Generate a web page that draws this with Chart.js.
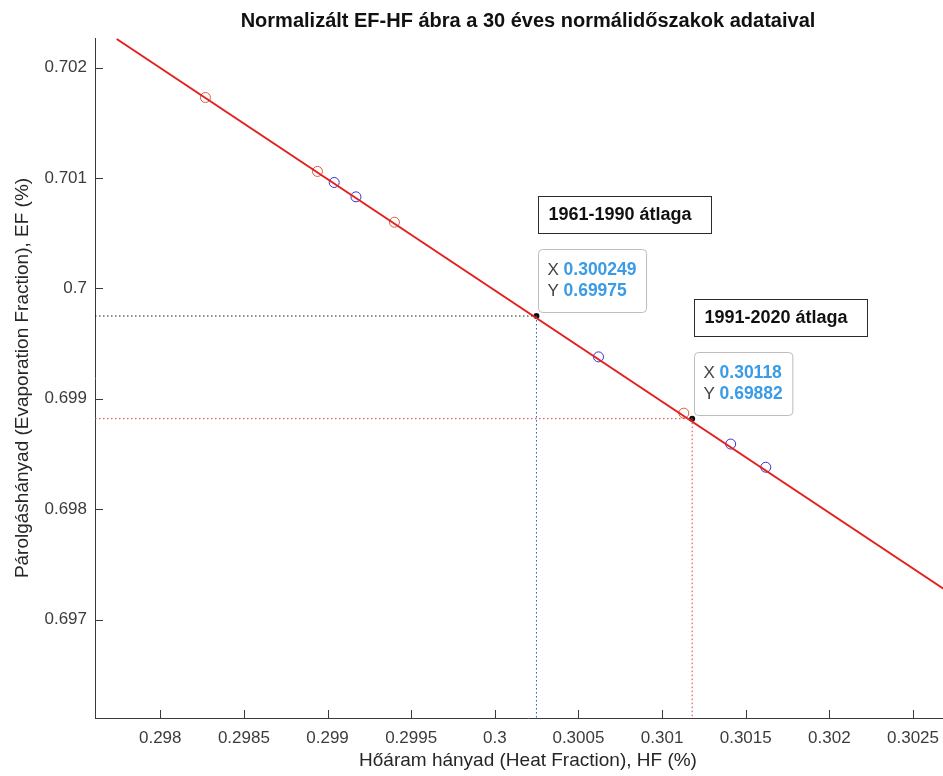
<!DOCTYPE html>
<html>
<head>
<meta charset="utf-8">
<script src="https://cdn.jsdelivr.net/npm/chart.js@4.4.1/dist/chart.umd.min.js"></script>
<style>
  html, body { margin: 0; padding: 0; background: #fff; overflow: hidden; }
  #wrap { width: 990px; height: 776px; }
</style>
</head>
<body>
<div id="wrap"><canvas id="efhf" width="990" height="776"></canvas></div>
<script>
var xTicks = [0.298, 0.2985, 0.299, 0.2995, 0.3, 0.3005, 0.301, 0.3015, 0.302, 0.3025];
var yTicks = [0.697, 0.698, 0.699, 0.7, 0.701, 0.702];
var xMin = 0.29761, xMax = 0.302787;
var yMin = 0.696108, yMax = 0.702269;

var redHF = [0.29827, 0.29894, 0.29940, 0.30113];
var redEF = [0.70173, 0.70106, 0.70060, 0.69887];
var blueHF = [0.29904, 0.29917, 0.30062, 0.30141, 0.30162];
var blueEF = [0.70096, 0.70083, 0.69938, 0.69859, 0.69838];

var fitHF = [0.29774, 0.30279];
var fitEF = [0.70226, 0.69717];

var avgHF = [0.300249, 0.30118];
var avgEF = [0.69975, 0.69882];
var avgLabels = ['1961-1990 átlaga', '1991-2020 átlaga'];

var FONT = "'Liberation Sans', Arial, Helvetica, sans-serif";

function pts(xs, ys) {
    var out = [];
    for (var i = 0; i < xs.length; i++) out.push({ x: xs[i], y: ys[i] });
    return out;
}

var dotted = [1.5, 2.5];

// inward tick marks, matlab style
var tickMarks = {
    id: 'tickMarks',
    afterDraw: function (chart) {
        var ctx = chart.ctx, xs = chart.scales.x, ys = chart.scales.y;
        var a = chart.chartArea;
        ctx.save();
        ctx.strokeStyle = '#3a3a3a';
        ctx.lineWidth = 1;
        ctx.beginPath();
        xTicks.forEach(function (v) {
            var p = Math.round(xs.getPixelForValue(v)) + 0.5;
            ctx.moveTo(p, a.bottom);
            ctx.lineTo(p, a.bottom - 8);
        });
        yTicks.forEach(function (v) {
            var p = Math.round(ys.getPixelForValue(v)) + 0.5;
            ctx.moveTo(a.left, p);
            ctx.lineTo(a.left + 8, p);
        });
        ctx.stroke();
        ctx.restore();
    }
};

function roundRect(ctx, x, y, w, h, r) {
    ctx.beginPath();
    ctx.moveTo(x + r, y);
    ctx.lineTo(x + w - r, y);
    ctx.quadraticCurveTo(x + w, y, x + w, y + r);
    ctx.lineTo(x + w, y + h - r);
    ctx.quadraticCurveTo(x + w, y + h, x + w - r, y + h);
    ctx.lineTo(x + r, y + h);
    ctx.quadraticCurveTo(x, y + h, x, y + h - r);
    ctx.lineTo(x, y + r);
    ctx.quadraticCurveTo(x, y, x + r, y);
    ctx.closePath();
}

// data tips and the two text boxes
var notes = {
    id: 'notes',
    afterDraw: function (chart) {
        var ctx = chart.ctx, xs = chart.scales.x, ys = chart.scales.y;
        ctx.save();
        for (var i = 0; i < avgHF.length; i++) {
            var px = xs.getPixelForValue(avgHF[i]);
            var py = ys.getPixelForValue(avgEF[i]);

            // datatip
            var vx = String(avgHF[i]), vy = String(avgEF[i]);
            ctx.font = 'bold 17.5px ' + FONT;
            var vw = Math.max(ctx.measureText(vx).width, ctx.measureText(vy).width);
            ctx.font = '17px ' + FONT;
            var lw = ctx.measureText('X ').width;
            var w = 9 + lw + vw + 10, h = 63;
            var bx = Math.round(px) + 2.5, by = Math.round(py) - 3.5 - h;
            roundRect(ctx, bx, by, w, h, 4);
            ctx.fillStyle = 'rgba(255,255,255,0.95)';
            ctx.fill();
            ctx.strokeStyle = '#bdbdbd';
            ctx.lineWidth = 1;
            ctx.stroke();
            ctx.textBaseline = 'middle';
            ctx.textAlign = 'left';
            ctx.fillStyle = '#444';
            ctx.font = '17px ' + FONT;
            ctx.fillText('X', bx + 9, by + 21);
            ctx.fillText('Y', bx + 9, by + 42);
            ctx.fillStyle = '#3a9be6';
            ctx.font = 'bold 17.5px ' + FONT;
            ctx.fillText(vx, bx + 9 + lw, by + 21);
            ctx.fillText(vy, bx + 9 + lw, by + 42);

            // label box
            var tx = Math.round(px) + 2.5, ty = Math.round(py) - 119.5;
            ctx.fillStyle = '#fff';
            ctx.fillRect(tx, ty, 173, 37);
            ctx.strokeStyle = '#2b2b2b';
            ctx.strokeRect(tx, ty, 173, 37);
            ctx.fillStyle = '#111';
            ctx.font = 'bold 18px ' + FONT;
            ctx.fillText(avgLabels[i], tx + 10, ty + 19);
        }
        ctx.restore();
    }
};

var ctx = document.getElementById('efhf').getContext('2d');
var chart = new Chart(ctx, {
    type: 'scatter',
    data: {
        datasets: [
            {
                label: 'h1',
                data: [{ x: xMin, y: avgEF[0] }, { x: avgHF[0], y: avgEF[0] }],
                showLine: true, borderColor: '#1e1e1e', borderWidth: 1, borderDash: dotted,
                pointRadius: 0
            },
            {
                label: 'v1',
                data: [{ x: avgHF[0], y: avgEF[0] }, { x: avgHF[0], y: yMin }],
                showLine: true, borderColor: '#2f4fc4', borderWidth: 1, borderDash: dotted,
                pointRadius: 0
            },
            {
                label: 'h2',
                data: [{ x: xMin, y: avgEF[1] }, { x: avgHF[1], y: avgEF[1] }],
                showLine: true, borderColor: '#d33a3a', borderWidth: 1, borderDash: dotted,
                pointRadius: 0
            },
            {
                label: 'v2',
                data: [{ x: avgHF[1], y: avgEF[1] }, { x: avgHF[1], y: yMin }],
                showLine: true, borderColor: '#d33a3a', borderWidth: 1, borderDash: dotted,
                pointRadius: 0
            },
            {
                label: 'fit',
                data: pts(fitHF, fitEF),
                showLine: true, borderColor: '#e3201f', borderWidth: 2,
                pointRadius: 0
            },
            {
                label: 'red',
                data: pts(redHF, redEF),
                pointStyle: 'circle', pointRadius: 5, pointBorderWidth: 1,
                pointBorderColor: '#de5a3c', pointBackgroundColor: 'rgba(0,0,0,0)'
            },
            {
                label: 'blue',
                data: pts(blueHF, blueEF),
                pointStyle: 'circle', pointRadius: 5, pointBorderWidth: 1,
                pointBorderColor: '#3a2fd0', pointBackgroundColor: 'rgba(0,0,0,0)'
            },
            {
                label: 'avg',
                data: pts(avgHF, avgEF),
                pointRadius: 3, pointBorderWidth: 0,
                pointBackgroundColor: '#111', pointBorderColor: '#111'
            }
        ]
    },
    options: {
        responsive: false,
        animation: false,
        layout: { padding: { left: 0, right: 29, top: 0, bottom: 0 } },
        plugins: {
            legend: { display: false },
            tooltip: { enabled: false },
            title: {
                display: true,
                fullSize: false,
                text: 'Normalizált EF-HF ábra a 30 éves normálidőszakok adataival',
                color: '#111',
                font: { family: FONT, size: 20, weight: 'bold' },
                padding: { top: 9, bottom: 5 }
            }
        },
        scales: {
            x: {
                type: 'linear',
                min: xMin, max: xMax,
                grid: { display: false, drawTicks: false },
                border: { display: true, color: '#3a3a3a', width: 1 },
                afterBuildTicks: function (s) { s.ticks = xTicks.map(function (v) { return { value: v }; }); },
                afterFit: function (s) { s.height = 58; },
                ticks: {
                    color: '#3c3c3c', padding: 10, maxRotation: 0, autoSkip: false,
                    font: { family: FONT, size: 17 },
                    callback: function (v) { return String(+v.toFixed(4)); }
                },
                title: {
                    display: true,
                    text: 'Hőáram hányad (Heat Fraction), HF (%)',
                    color: '#262626',
                    font: { family: FONT, size: 19 },
                    padding: { top: 0, bottom: 4 }
                }
            },
            y: {
                type: 'linear',
                min: yMin, max: yMax,
                grid: { display: false, drawTicks: false },
                border: { display: true, color: '#3a3a3a', width: 1 },
                afterBuildTicks: function (s) { s.ticks = yTicks.map(function (v) { return { value: v }; }); },
                afterFit: function (s) { s.width = 95; },
                ticks: {
                    color: '#3c3c3c', padding: 8, autoSkip: false,
                    font: { family: FONT, size: 17 },
                    callback: function (v) { return String(+v.toFixed(4)); }
                },
                title: {
                    display: true,
                    text: 'Párolgáshányad (Evaporation Fraction), EF (%)',
                    color: '#262626',
                    font: { family: FONT, size: 19 },
                    padding: { top: 11, bottom: 0 }
                }
            }
        }
    },
    plugins: [tickMarks, notes]
});
</script>
</body>
</html>
